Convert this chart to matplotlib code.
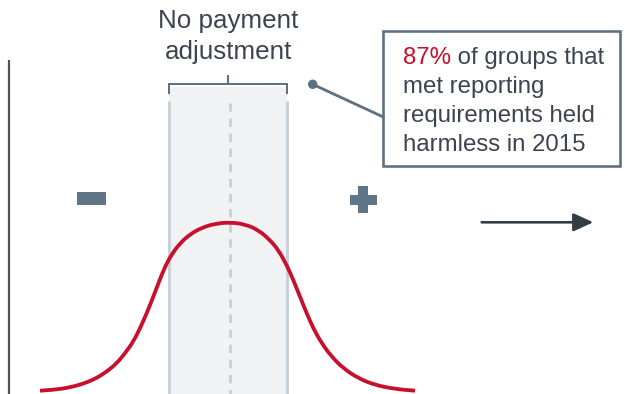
import matplotlib.pyplot as plt
from matplotlib.patches import Rectangle, Circle, FancyArrowPatch, PathPatch
from matplotlib.path import Path

plt.rcParams['font.family'] = ['Liberation Sans', 'DejaVu Sans']

# bell curve traced in pixel units (x, y), left tail to right tail
curve_x = [40, 55, 68.3, 81.7, 95, 106.7, 116.7, 125, 133.3, 140, 146.7,
           153.3, 159, 165, 171.7, 180, 190, 201.7, 215, 230,
           245, 258.3, 270, 278.3, 286.7, 293.3, 300, 306.7, 313.3,
           321.7, 331.7, 343.3, 358.3, 375, 395, 415]
curve_y = [390.7, 389.7, 387.7, 384.3, 379, 371.7, 363.3, 353.3, 341.7,
           328.3, 313.3, 296.7, 281.7, 266.7, 254.3, 243.3, 234.3, 227.7,
           223.7, 222.3,
           224.3, 230, 240, 250, 265, 280, 296.7, 313.3, 328.3, 343.3,
           356.7, 368.3, 378.3, 385, 389, 390.7]

center_x = 229.5
band_left, band_right = 169, 287
header_lines = ['No payment', 'adjustment']
callout_red = '87%'
callout_lines = [' of groups that', 'met reporting', 'requirements held', 'harmless in 2015']

RED = '#c8102e'
SLATE = '#5f7080'
TEXT = '#3b4450'
W, H = 625, 394

fig = plt.figure(figsize=(6.25, 3.94), dpi=100)
ax = fig.add_axes([0, 0, 1, 1])
ax.set_xlim(0, W)
ax.set_ylim(H, 0)
ax.axis('off')

px = 0.72  # points per pixel at 100 dpi

# left axis line
ax.plot([8.5, 8.5], [60, H], color='#4a545e', lw=2.2 * px, solid_capstyle='butt')

# neutral band
ax.add_patch(Rectangle((band_left, 87), band_right - band_left, H - 87,
                       facecolor='#f1f2f4', edgecolor='none', zorder=1))
for bx in (band_left, band_right):
    ax.plot([bx, bx], [101, H], color='#c9d0d6', lw=3 * px, zorder=2,
            solid_capstyle='butt')
ax.plot([center_x, center_x], [103, H], color='#c5ccd3', lw=2.6 * px,
        dashes=(3.2, 2.6), zorder=2)

# bracket above band
ax.plot([band_left, band_left, band_right, band_right], [93, 84, 84, 93],
        color=SLATE, lw=2 * px, zorder=3, solid_joinstyle='miter')
ax.plot([228.3, 228.3], [84, 76], color=SLATE, lw=2 * px, zorder=3)

for t, y in zip(header_lines, [28.3, 59.3]):
    ax.text(228.3, y, t, ha='center', va='baseline', fontsize=18.7, color=TEXT)

# distribution curve: traced points used as quadratic bezier controls
pts = list(zip(curve_x, curve_y))
verts = [pts[0]]
codes = [Path.MOVETO]
for i in range(1, len(pts) - 1):
    mid = ((pts[i][0] + pts[i + 1][0]) / 2, (pts[i][1] + pts[i + 1][1]) / 2)
    verts += [pts[i], mid]
    codes += [Path.CURVE3, Path.CURVE3]
verts.append(pts[-1])
codes.append(Path.LINETO)
ax.add_patch(PathPatch(Path(verts, codes), facecolor='none', edgecolor=RED,
                       lw=3.8 * px, capstyle='butt', joinstyle='round', zorder=4))

# minus / plus symbols
sym = '#607585'
ax.add_patch(Rectangle((77.3, 192.3), 28.7, 12.4, facecolor=sym, edgecolor='none'))
ax.add_patch(Rectangle((350, 194.5), 26.7, 10.7, facecolor=sym, edgecolor='none'))
ax.add_patch(Rectangle((358.3, 186), 10, 27.3, facecolor=sym, edgecolor='none'))

# direction arrow
ax.add_patch(FancyArrowPatch((481.7, 222.3), (593.3, 222.3),
                             arrowstyle='-|>,head_length=0.55,head_width=0.25',
                             mutation_scale=22, color='#333d47', lw=2.6 * px,
                             shrinkA=0, shrinkB=0))

# callout box and connector
ax.add_patch(Rectangle((383.3, 30.7), 237, 135, facecolor='white',
                       edgecolor=SLATE, lw=2.6 * px, zorder=5))
ax.plot([312.7, 383.3], [84.3, 117], color=SLATE, lw=2.8 * px, zorder=5)
ax.add_patch(Circle((312.7, 84.3), 4.7, facecolor=SLATE, edgecolor='none', zorder=6))

fs = 17.3
red_txt = ax.text(402.7, 64.3, callout_red, ha='left', va='baseline',
                  fontsize=fs, color=RED, zorder=6)
fig.canvas.draw()
bb = red_txt.get_window_extent().transformed(ax.transData.inverted())
x_after = max(bb.x0, bb.x1)
ax.text(x_after, 64.3, callout_lines[0], ha='left', va='baseline',
        fontsize=fs, color=TEXT, zorder=6)
for i, t in enumerate(callout_lines[1:], start=1):
    ax.text(402.7, 64.3 + 28.8 * i, t, ha='left', va='baseline',
            fontsize=fs, color=TEXT, zorder=6)

fig.savefig('out.png', dpi=100)
